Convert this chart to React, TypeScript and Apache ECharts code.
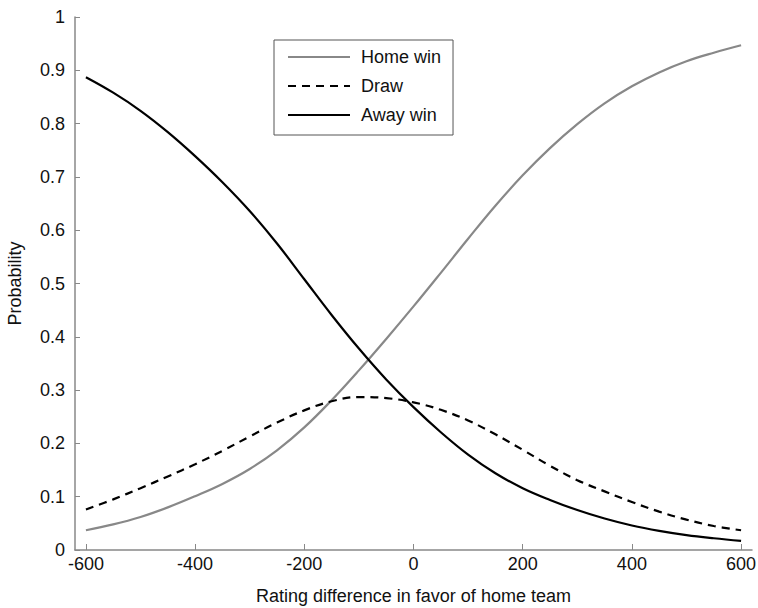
import React, { useEffect, useRef } from "react";
import * as echarts from "echarts";

const ratingDiff = [-600, -550, -500, -450, -400, -350, -300, -250, -200, -150, -100, -50, 0, 50, 100, 150, 200, 250, 300, 350, 400, 450, 500, 550, 600];
const homeWin = [0.037, 0.048, 0.062, 0.080, 0.101, 0.124, 0.152, 0.187, 0.230, 0.281, 0.337, 0.396, 0.457, 0.520, 0.584, 0.646, 0.703, 0.754, 0.799, 0.838, 0.870, 0.896, 0.917, 0.933, 0.947];
const draw = [0.076, 0.095, 0.116, 0.138, 0.161, 0.186, 0.213, 0.239, 0.262, 0.279, 0.287, 0.285, 0.277, 0.263, 0.243, 0.217, 0.188, 0.158, 0.131, 0.110, 0.090, 0.072, 0.057, 0.045, 0.037];
const awayWin = [0.887, 0.858, 0.824, 0.784, 0.739, 0.690, 0.636, 0.575, 0.508, 0.441, 0.378, 0.320, 0.268, 0.221, 0.179, 0.144, 0.116, 0.094, 0.075, 0.059, 0.046, 0.036, 0.028, 0.022, 0.017];
const xTicks = [-600, -400, -200, 0, 200, 400, 600];
const seriesNames = ["Home win", "Draw", "Away win"];

const FONT = "'Liberation Sans', Arial, Helvetica, sans-serif";

export default function App() {
  const ref = useRef<HTMLDivElement>(null);
  useEffect(() => {
    if (!ref.current) return;
    const chart = echarts.init(ref.current, undefined, { renderer: "svg" });
    const mk = (ys: number[]) => ratingDiff.map((x, i) => [x, ys[i]]);
    chart.setOption({
      animation: false,
      backgroundColor: "#ffffff",
      textStyle: { fontFamily: FONT },
      grid: { left: 75, right: 6, top: 17, bottom: 58, containLabel: false, outerBoundsMode: "none" },
      legend: {
        left: 274,
        top: 40,
        orient: "vertical",
        data: seriesNames,
        itemWidth: 62,
        itemHeight: 14,
        itemGap: 11,
        padding: [8, 12, 11, 13],
        borderColor: "#555555",
        borderWidth: 1,
        backgroundColor: "#ffffff",
        itemStyle: { opacity: 0 },
        textStyle: { fontSize: 18, color: "#111", fontFamily: FONT, padding: [0, 0, 0, 6] },
      },
      xAxis: {
        type: "value",
        min: -620,
        max: 620,
        name: "Rating difference in favor of home team",
        nameLocation: "middle",
        nameGap: 37,
        nameTextStyle: { fontSize: 18, color: "#111", fontFamily: FONT },
        splitLine: { show: false },
        axisLine: { show: true, onZero: false, lineStyle: { color: "#888888", width: 1.5 } },
        axisTick: { show: true, inside: true, length: 6, customValues: xTicks, lineStyle: { color: "#888888", width: 1 } },
        axisLabel: { fontSize: 18, color: "#111", margin: 5, fontFamily: FONT, customValues: xTicks },
      },
      yAxis: {
        type: "value",
        min: 0,
        max: 1,
        interval: 0.1,
        name: "Probability",
        nameLocation: "middle",
        nameGap: 51,
        nameTextStyle: { fontSize: 18, color: "#111", fontFamily: FONT },
        splitLine: { show: false },
        axisLine: { show: true, onZero: false, lineStyle: { color: "#888888", width: 1.5 } },
        axisTick: { show: true, inside: true, length: 5, lineStyle: { color: "#888888", width: 1 } },
        axisLabel: { fontSize: 18, color: "#111", margin: 10, fontFamily: FONT },
      },
      series: [
        {
          name: seriesNames[0],
          type: "line",
          smooth: 0.4,
          symbol: "none",
          data: mk(homeWin),
          lineStyle: { color: "#888888", width: 2.2 },
          itemStyle: { color: "#888888" },
        },
        {
          name: seriesNames[1],
          type: "line",
          smooth: 0.4,
          symbol: "none",
          data: mk(draw),
          lineStyle: { color: "#000000", width: 2.2, type: [8, 6] },
          itemStyle: { color: "#000000" },
        },
        {
          name: seriesNames[2],
          type: "line",
          smooth: 0.4,
          symbol: "none",
          data: mk(awayWin),
          lineStyle: { color: "#000000", width: 2.2 },
          itemStyle: { color: "#000000" },
        },
      ],
    });
    return () => chart.dispose();
  }, []);
  return <div ref={ref} style={{ position: "fixed", left: 0, top: 0, width: 758, height: 608 }} />;
}
